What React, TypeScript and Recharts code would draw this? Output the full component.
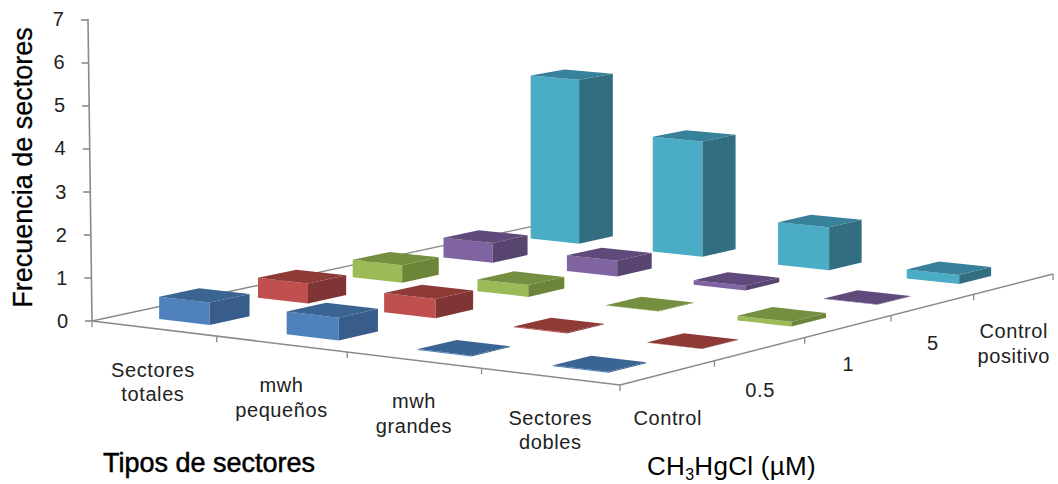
import React from 'react';
import { BarChart, Bar, XAxis, YAxis, Customized } from 'recharts';

const tipos = ['Sectores\ntotales', 'mwh\npequeños', 'mwh\ngrandes', 'Sectores\ndobles'];
const concentraciones = ['Control', '0.5', '1', '5', 'Control\npositivo'];
const frecuencias = [0, 1, 2, 3, 4, 5, 6, 7];

const control = [0.52, 0.52, 0.02, 0.02];
const c05 = [0.47, 0.45, 0.02, 0.01];
const c1 = [0.42, 0.28, 0.01, 0.11];
const c5 = [0.49, 0.38, 0.11, 0.01];
const positivo = [4.12, 2.86, 1.05, 0.22];

const tabla = tipos.map((tipo, i) => ({
  tipo,
  control: control[i],
  c05: c05[i],
  c1: c1[i],
  c5: c5[i],
  positivo: positivo[i],
}));

// drawn back row first so nearer boxes paint over farther ones
const filas = [
  { key: 'positivo', row: 4, front: '#4BACC6', side: '#326D80', top: '#37819A' },
  { key: 'c5', row: 3, front: '#8064A2', side: '#57446F', top: '#604A7B' },
  { key: 'c1', row: 2, front: '#9BBB59', side: '#6C8538', top: '#738F3F' },
  { key: 'c05', row: 1, front: '#C0504D', side: '#7F3533', top: '#8E3A37' },
  { key: 'control', row: 0, front: '#4F81BD', side: '#385D8A', top: '#3A6491' },
];

// floor corners in the window: left, front, right, back
const A = [90, 321];
const F = [620, 385];
const R = [1053, 274];
const B = [553, 222];

// square-to-quad perspective for the chart floor
const dx1 = F[0] - R[0];
const dy1 = F[1] - R[1];
const dx2 = B[0] - R[0];
const dy2 = B[1] - R[1];
const sx = A[0] - F[0] + R[0] - B[0];
const sy = A[1] - F[1] + R[1] - B[1];
const den = dx1 * dy2 - dx2 * dy1;
const g = (sx * dy2 - dx2 * sy) / den;
const h = (dx1 * sy - sx * dy1) / den;

const project = (u: number, v: number) => {
  const w = g * u + h * v + 1;
  return {
    x: ((F[0] - A[0] + g * F[0]) * u + (B[0] - A[0] + h * B[0]) * v + A[0]) / w,
    y: ((F[1] - A[1] + g * F[1]) * u + (B[1] - A[1] + h * B[1]) * v + A[1]) / w,
    w,
  };
};

const HALF_U = 0.05;
const HALF_V = 0.04;
const FONT = '"Liberation Sans", Arial, sans-serif';
const AXIS = '#8A8A8A';

const poly = (pts: { x: number; y: number }[]) => pts.map((p) => `${p.x},${p.y}`).join(' ');

const Caja = ({ index, height, row, front, side, top }: any) => {
  const u = (index + 0.5) / tipos.length + 0.002;
  const v = (row + 0.5) / concentraciones.length;
  const base = [
    project(u - HALF_U, v - HALF_V), // left
    project(u + HALF_U, v - HALF_V), // front
    project(u + HALF_U, v + HALF_V), // right
    project(u - HALF_U, v + HALF_V), // back
  ];
  const roof = base.map((p) => ({ x: p.x, y: p.y - height / p.w }));
  return (
    <g>
      <polygon points={poly([base[0], base[1], roof[1], roof[0]])} fill={front} />
      <polygon points={poly([base[1], base[2], roof[2], roof[1]])} fill={side} />
      <polygon points={poly(roof)} fill={top} />
    </g>
  );
};

const Lineas = ({ text, x, y, step = 24.5 }: { text: string; x: number; y: number; step?: number }) => (
  <text x={x} y={y} textAnchor="middle" fontFamily={FONT} fontSize={20} letterSpacing={0.6} fill="#222">
    {text.split('\n').map((line, i) => (
      <tspan key={i} x={x} y={y + i * step}>
        {line}
      </tspan>
    ))}
  </text>
);

const TipoTick = ({ payload, index }: any) => {
  const p = project((index + 0.5) / tipos.length, 0);
  return <Lineas text={payload.value} x={p.x} y={p.y + 48} />;
};

const FrecuenciaTick = ({ y, payload }: any) => {
  const x = 92 - ((321 - y) * 4) / 301;
  return (
    <text x={x - 24} y={y + 7} textAnchor="end" fontFamily={FONT} fontSize={20} fill="#222">
      {payload.value}
    </text>
  );
};

const etiquetaOffset = [52, 48, 45, 45, 54];

const Suelo = () => {
  const ejeU = [0, 0.25, 0.5, 0.75, 1].map((u) => project(u, 0));
  const ejeV = [0, 0.2, 0.4, 0.6, 0.8, 1].map((v) => project(1, v));
  return (
    <g>
      <line x1={A[0] + 2} y1={A[1]} x2={88} y2={19} stroke={AXIS} strokeWidth={1.6} />
      {frecuencias.map((f) => {
        const y = 321 - f * 43;
        const x = 92 - ((321 - y) * 4) / 301;
        return <line key={f} x1={x - 7} y1={y} x2={x} y2={y} stroke={AXIS} strokeWidth={1.6} />;
      })}
      <line x1={A[0] + 2} y1={A[1]} x2={B[0]} y2={B[1]} stroke={AXIS} strokeWidth={1.3} />
      <line x1={A[0] + 2} y1={A[1]} x2={F[0]} y2={F[1]} stroke={AXIS} strokeWidth={1.5} />
      <line x1={F[0]} y1={F[1]} x2={R[0]} y2={R[1]} stroke={AXIS} strokeWidth={1.5} />
      {ejeU.map((p, i) => (
        <line key={i} x1={p.x + (i === 0 ? 2 : 0)} y1={p.y} x2={p.x + (i === 0 ? 2 : 0)} y2={p.y + 6} stroke={AXIS} strokeWidth={1.3} />
      ))}
      {ejeV.slice(1).map((p, i) => (
        <line key={i} x1={p.x} y1={p.y} x2={p.x} y2={p.y + 6} stroke={AXIS} strokeWidth={1.3} />
      ))}
    </g>
  );
};

const Textos = () => (
  <g>
    {concentraciones.map((c, i) => {
      const p = project(1, (i + 0.5) / concentraciones.length);
      return <Lineas key={c} text={c} x={p.x} y={p.y + etiquetaOffset[i]} />;
    })}
    <text
      transform="translate(32,167.5) rotate(-90)"
      textAnchor="middle"
      fontFamily={FONT}
      fontSize={27}
      stroke="#000"
      strokeWidth={0.3}
      fill="#000"
    >
      Frecuencia de sectores
    </text>
    <text x={103} y={472} fontFamily={FONT} fontSize={27} stroke="#000" strokeWidth={0.5} fill="#000">
      Tipos de sectores
    </text>
    <text x={647} y={475} fontFamily={FONT} fontSize={26} letterSpacing={0.3} fill="#000">
      CH<tspan fontSize={16} dy={5}>3</tspan>
      <tspan dy={-5}>HgCl (µM)</tspan>
    </text>
  </g>
);

export default function App() {
  return (
    <div style={{ position: 'absolute', left: 0, top: 0, width: 1058, height: 484, background: '#fff' }}>
      <BarChart
        width={1058}
        height={484}
        data={tabla}
        margin={{ top: 19, right: 0, bottom: 0, left: 0 }}
        barGap={0}
        barCategoryGap={0}
      >
        <Customized component={Suelo} />
        <XAxis dataKey="tipo" height={163} axisLine={false} tickLine={false} interval={0} tick={<TipoTick />} />
        <YAxis
          width={90}
          domain={[0, 7]}
          ticks={frecuencias}
          axisLine={false}
          tickLine={false}
          tick={<FrecuenciaTick />}
        />
        {filas.map((f) => (
          <Bar
            key={f.key}
            dataKey={f.key}
            isAnimationActive={false}
            shape={(props: any) => <Caja {...props} row={f.row} front={f.front} side={f.side} top={f.top} />}
          />
        ))}
        <Customized component={Textos} />
      </BarChart>
    </div>
  );
}
